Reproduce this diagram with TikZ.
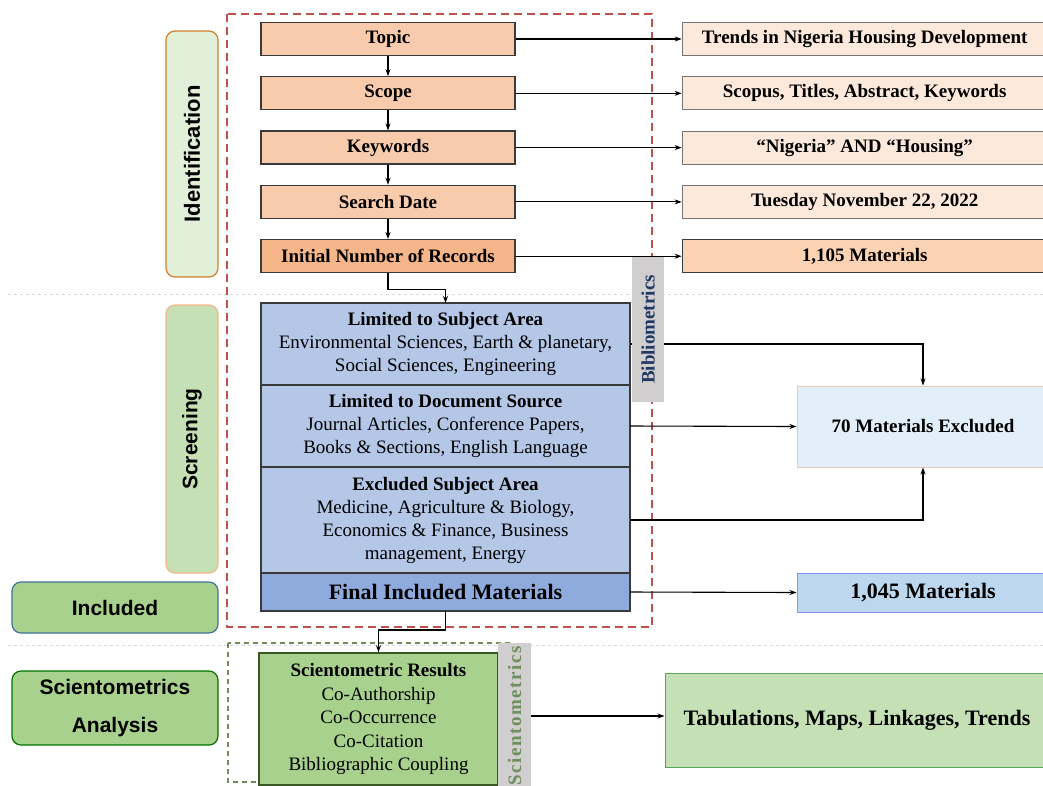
\documentclass[tikz,border=0pt]{standalone}
\usepackage{fontspec}
\setmainfont{Liberation Serif}
\newfontfamily\labelfont{Liberation Sans}
\newfontfamily\spacedfont[LetterSpace=8]{Liberation Serif}
\usetikzlibrary{positioning,arrows.meta}
\definecolor{peach}{HTML}{F8CBAD}
\definecolor{deeppeach}{HTML}{F5B68A}
\definecolor{lightpeach}{HTML}{FAD2B4}
\definecolor{cream}{HTML}{FCE9DB}
\definecolor{paleblue}{HTML}{B4C7E7}
\definecolor{midblue}{HTML}{8FAADC}
\definecolor{iceblue}{HTML}{E2EEF9}
\definecolor{skyblue}{HTML}{BDD7EE}
\definecolor{palegreen}{HTML}{E2F0D9}
\definecolor{softgreen}{HTML}{C5E0B4}
\definecolor{leafgreen}{HTML}{A9D18E}
\definecolor{darkgreen}{HTML}{385723}
\definecolor{tabgray}{HTML}{D0CECE}
\definecolor{boxline}{HTML}{3A3A3A}
\definecolor{frame red}{HTML}{C0504D}
\definecolor{frame green}{HTML}{6E8B5A}
\definecolor{navytext}{HTML}{1F3864}
\definecolor{olivetext}{HTML}{6F8F5F}
\definecolor{tealline}{HTML}{41719C}

\begin{document}
\begin{tikzpicture}[x=1pt,y=-1pt,>={Stealth[length=7pt,width=5pt]},
		stepbox/.style={draw=boxline,line width=1.3pt,fill=peach,minimum width=254pt,minimum height=33pt,inner sep=0pt,font=\bfseries\fontsize{19}{23}\selectfont},
		infobox/.style={draw=boxline!70,line width=1pt,fill=cream,minimum width=365pt,minimum height=33pt,inner sep=0pt,font=\bfseries\fontsize{19}{23}\selectfont},
		stagebox/.style={draw,line width=1.2pt,rounded corners=9pt,align=center,inner sep=0pt,font=\labelfont\bfseries\fontsize{21}{38}\selectfont},
		filterbox/.style={draw=boxline,line width=1.3pt,fill=paleblue,minimum width=369pt,inner sep=0pt,outer sep=0pt,align=center,font=\fontsize{19}{23}\selectfont},
		sidetab/.style={fill=tabgray,inner sep=0pt,rotate=90,font=\bfseries\fontsize{19}{23}\selectfont},
		flow/.style={->,line width=1.1pt}]
	\fill[white] (0,0) rectangle (1043,785);
	\useasboundingbox (0,0) rectangle (1043,785);
	\draw[gray!30,dashed,line width=1pt] (8,294) -- (1043,294);
	\draw[gray!30,dashed,line width=1pt] (8,645) -- (1043,645);
	\draw[frame red,line width=1.3pt,dash pattern=on 8pt off 5pt] (227,14) rectangle (652,627);
	\draw[frame green,line width=1.1pt,dash pattern=on 5pt off 4pt] (228,643) rectangle (509,782);

	\node (ident) [stagebox,rotate=90,fill=palegreen,draw=brown!70!orange,minimum width=246pt,minimum height=52pt,font=\labelfont\bfseries\fontsize{22}{38}\selectfont] at (192,154) {Identification};
	\node (screen) [stagebox,rotate=90,fill=softgreen,draw=deeppeach,minimum width=268pt,minimum height=52pt] at (192,439) {Screening};
	\node (incl) [stagebox,fill=leafgreen,draw=tealline,minimum width=206pt,minimum height=51pt] at (115,607.5) {Included};
	\node (scianal) [stagebox,fill=leafgreen,draw=green!45!black,minimum width=206pt,minimum height=74pt] at (115,708) {Scientometrics\\Analysis};

	\node (topic) [stepbox] at (388,39) {Topic};
	\node (scope) [stepbox,below=20pt of topic] {Scope};
	\node (keywords) [stepbox,below=20pt of scope] {Keywords};
	\node (searchdate) [stepbox,below=20pt of keywords] {Search Date};
	\node (records) [stepbox,below=20pt of searchdate,fill=deeppeach] {Initial Number of Records};
	\draw [flow] (topic) -- (scope);
	\draw [flow] (scope) -- (keywords);
	\draw [flow] (keywords) -- (searchdate);
	\draw [flow] (searchdate) -- (records);

	\node (trends) [infobox,right=166pt of topic] {Trends in Nigeria Housing Development};
	\node (database) [infobox,right=166pt of scope] {Scopus, Titles, Abstract, Keywords};
	\node (query) [infobox,right=166pt of keywords] {“Nigeria” AND “Housing”};
	\node (date) [infobox,right=166pt of searchdate] {Tuesday November 22, 2022};
	\node (found) [infobox,right=166pt of records,fill=lightpeach,draw=boxline] {1,105 Materials};
	\draw [flow] (topic) -- (trends);
	\draw [flow] (scope) -- (database);
	\draw [flow] (keywords) -- (query);
	\draw [flow] (searchdate) -- (date);
	\draw [flow] (records) -- (found);

	\node (subject) [filterbox,minimum height=82pt] at (445.5,344) {\textbf{Limited to Subject Area}\\Environmental Sciences, Earth \& planetary,\\Social Sciences, Engineering};
	\node (source) [filterbox,minimum height=82pt,below=0pt of subject] {\textbf{Limited to Document Source}\\Journal Articles, Conference Papers,\\Books \& Sections, English Language};
	\node (excluded) [filterbox,minimum height=106pt,below=0pt of source] {\textbf{Excluded Subject Area}\\Medicine, Agriculture \& Biology,\\Economics \& Finance, Business\\management, Energy};
	\node (final) [filterbox,fill=midblue,minimum height=38pt,below=0pt of excluded,font=\bfseries\fontsize{22}{26}\selectfont] {Final Included Materials};
	\draw [flow] (records.south) -- ++(0,16) -| (subject.north);

	\node (removed) [draw=brown!40,line width=1pt,fill=iceblue,minimum width=252pt,minimum height=81pt,font=\bfseries\fontsize{19}{23}\selectfont] at (923,426.5) {70 Materials Excluded};
	\node (kept) [draw=skyblue!70!blue,line width=1pt,fill=skyblue,minimum width=252pt,minimum height=39pt,font=\bfseries\fontsize{22}{26}\selectfont] at (923,592.5) {1,045 Materials};
	\draw [flow] (subject.east) -| (removed.north);
	\draw [flow] (source.east) -- (removed.west);
	\draw [flow] (excluded.east) -| (removed.south);
	\draw [flow] (final.east) -- (kept.west);

	\node (biblio) [sidetab,minimum width=145pt,minimum height=32pt,text=navytext] at (648,329.5) {Bibliometrics};

	\node (results) [draw=darkgreen,line width=1.5pt,fill=leafgreen,minimum width=239pt,minimum height=132pt,align=center,font=\fontsize{19}{23.5}\selectfont] at (378.5,719) {\textbf{Scientometric Results}\\Co-Authorship\\Co-Occurrence\\Co-Citation\\Bibliographic Coupling};
	\draw [flow] (final.south) -- ++(0,19) -| (results.north);
	\node (scitab) [sidetab,minimum width=147pt,minimum height=33pt,text=olivetext,font=\spacedfont\bfseries\fontsize{19}{23}\selectfont] at (514.5,716) {Scientometrics};
	\node (outputs) [draw=gray!70!green,line width=1pt,fill=softgreen,minimum width=384pt,minimum height=94pt,font=\bfseries\fontsize{22}{26}\selectfont] at (857,720) {Tabulations, Maps, Linkages, Trends};
	\draw [flow] (scitab.south) -- (scitab.south -| outputs.west);
\end{tikzpicture}
\end{document}
